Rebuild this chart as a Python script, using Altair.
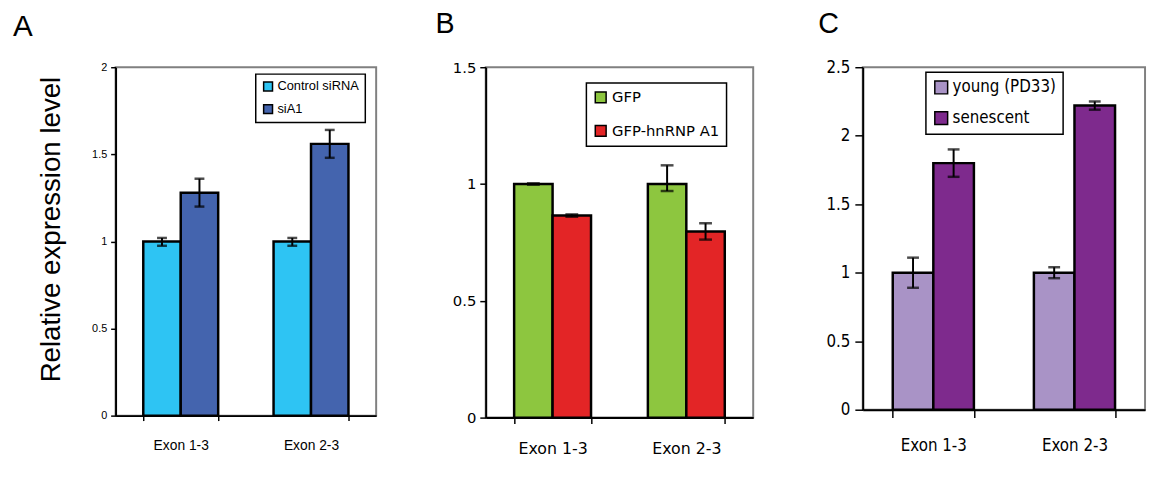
import altair as alt
import pandas as pd

categories = ["Exon 1-3", "Exon 2-3"]
letters = ["A", "B", "C"]
y_title = "Relative expression level"

# Panel A
a_series = ["Control siRNA", "siA1"]
a_colors = ["#2EC4F3", "#4464AE"]
a_control = [1.0, 1.0]
a_control_lo = [0.975, 0.975]
a_control_hi = [1.02, 1.02]
a_sia1 = [1.28, 1.56]
a_sia1_lo = [1.20, 1.48]
a_sia1_hi = [1.36, 1.64]
a_ticks = [0, 0.5, 1, 1.5, 2]

# Panel B
b_series = ["GFP", "GFP-hnRNP A1"]
b_colors = ["#8DC63F", "#E32526"]
b_gfp = [1.0, 1.0]
b_gfp_lo = [0.997, 0.97]
b_gfp_hi = [1.003, 1.08]
b_a1 = [0.865, 0.797]
b_a1_lo = [0.86, 0.762]
b_a1_hi = [0.87, 0.832]
b_ticks = [0, 0.5, 1, 1.5]

# Panel C
c_series = ["young (PD33)", "senescent"]
c_colors = ["#A993C6", "#7E2A8D"]
c_young = [1.0, 1.0]
c_young_lo = [0.89, 0.96]
c_young_hi = [1.11, 1.04]
c_sen = [1.80, 2.22]
c_sen_lo = [1.70, 2.19]
c_sen_hi = [1.90, 2.25]
c_ticks = [0, 0.5, 1, 1.5, 2, 2.5]

ARIAL = "Liberation Sans"
VERD = "DejaVu Sans"
COND = "DejaVu Sans Condensed, DejaVu Sans"


def make_df(series, vals, los, his):
    rows = []
    for si, s in enumerate(series):
        for ci, c in enumerate(categories):
            rows.append({"cat": c, "series": s, "val": vals[si][ci],
                         "lo": los[si][ci], "hi": his[si][ci]})
    return pd.DataFrame(rows)


def panel(df, series, colors, ymax, yticks, w, h, letter, p):
    base = alt.Chart(df)
    X = alt.X("cat:N", sort=categories,
              scale=alt.Scale(paddingInner=0.425, paddingOuter=0.2125),
              axis=alt.Axis(title=None, labelAngle=0, tickBand="extent",
                            labelFont=p["xfont"], labelFontSize=p["xfs"],
                            labelColor="black", labelPadding=p["xlp"],
                            tickSize=p["xts"], tickColor="black", tickWidth=1.5,
                            domainColor="black", domainWidth=2))
    XO = alt.XOffset("series:N", sort=series,
                     scale=alt.Scale(paddingInner=0, paddingOuter=0))
    yaxis_kw = dict(values=yticks, labelExpr="'' + datum.value", grid=False,
                    labelFont=p["yfont"], labelFontSize=p["yfs"],
                    labelColor="black", labelPadding=p["ylp"],
                    tickSize=p["yts"], tickColor="black", tickWidth=1.5,
                    domainColor="black", domainWidth=2)
    if p.get("title"):
        yaxis_kw.update(title=p["title"], titleFont=ARIAL,
                        titleFontSize=28, titleFontWeight="normal",
                        titleColor="black", titleAngle=270,
                        titleX=-65, titleY=164, titleBaseline="middle",
                        titleAlign="center")
    else:
        yaxis_kw.update(title=None)

    def Y(field):
        return alt.Y(field, scale=alt.Scale(domain=[0, ymax], nice=False),
                     axis=alt.Axis(**yaxis_kw))

    bars = base.mark_bar(stroke="black", strokeWidth=2.5).encode(
        x=X, xOffset=XO, y=Y("val:Q"),
        color=alt.Color("series:N", sort=series,
                        scale=alt.Scale(domain=series, range=colors),
                        legend=alt.Legend(title=None, orient="none",
                                          legendX=p["lx"], legendY=p["ly"],
                                          direction="vertical",
                                          fillColor="white", strokeColor="black",
                                          padding=p["lpad"], rowPadding=p["lrp"],
                                          symbolType="square", symbolSize=p["lss"],
                                          symbolStrokeColor="black",
                                          symbolStrokeWidth=1.5, symbolOpacity=1,
                                          labelFont=p["lfont"], labelFontSize=p["lfs"],
                                          labelColor="black", labelOffset=p["loff"],
                                          labelLimit=0)))
    rule = base.mark_rule(color="black", strokeWidth=2).encode(
        x=X, xOffset=XO, y=Y("lo:Q"), y2=alt.Y2("hi:Q"))
    cap_lo = base.mark_tick(color="black", thickness=2.5, size=p["cap"]).encode(
        x=X, xOffset=XO, y=Y("lo:Q"))
    cap_hi = base.mark_tick(color="black", thickness=2.5, size=p["cap"]).encode(
        x=X, xOffset=XO, y=Y("hi:Q"))
    let = alt.Chart(pd.DataFrame({"t": [letter]})).mark_text(
        align="left", baseline="alphabetic", font=ARIAL,
        fontSize=p["letfs"], color="black").encode(
        text="t:N", x=alt.value(p["letx"]), y=alt.value(p["lety"]))
    return alt.layer(bars, rule, cap_lo, cap_hi, let).properties(width=w, height=h)


dfA = make_df(a_series, [a_control, a_sia1], [a_control_lo, a_sia1_lo],
              [a_control_hi, a_sia1_hi])
dfB = make_df(b_series, [b_gfp, b_a1], [b_gfp_lo, b_a1_lo], [b_gfp_hi, b_a1_hi])
dfC = make_df(c_series, [c_young, c_sen], [c_young_lo, c_sen_lo],
              [c_young_hi, c_sen_hi])

pA = panel(dfA, a_series, a_colors, 2, a_ticks, 264, 353, letters[0], dict(
    xfont=ARIAL, xfs=14, xlp=18, xts=5,
    yfont=ARIAL, yfs=11, ylp=4, yts=5, title=y_title,
    lx=142, ly=7, lpad=6, lrp=8, lss=81, lfont=ARIAL, lfs=13, loff=3,
    cap=10, letfs=30, letx=-104, lety=-32))
pB = panel(dfB, b_series, b_colors, 1.5, b_ticks, 271, 355, letters[1], dict(
    xfont=VERD, xfs=16, xlp=17, xts=6,
    yfont=VERD, yfs=15, ylp=4, yts=6,
    lx=102, ly=16, lpad=7, lrp=17, lss=121, lfont=VERD, lfs=15, loff=4,
    cap=13, letfs=29, letx=-51, lety=-35))
pC = panel(dfC, c_series, c_colors, 2.5, c_ticks, 286, 347, letters[2], dict(
    xfont=COND, xfs=17, xlp=20, xts=8,
    yfont=COND, yfs=17, ylp=5, yts=8,
    lx=64, ly=5, lpad=7, lrp=12, lss=169, lfont=COND, lfs=17, loff=3,
    cap=12, letfs=29, letx=-45, lety=-35))

chart = alt.hconcat(pA, pB, pC, spacing=111, bounds="flush").resolve_scale(
    x="independent", y="independent", color="independent",
    xOffset="independent").resolve_legend(color="independent").properties(
    padding={"left": 4, "top": -2, "right": 2, "bottom": 4}
).configure(font=ARIAL).configure_view(
    stroke="#808080", strokeWidth=2).configure_legend(strokeWidth=1.5)

chart.save("out.html", embed_options={"renderer": "svg", "actions": False})
